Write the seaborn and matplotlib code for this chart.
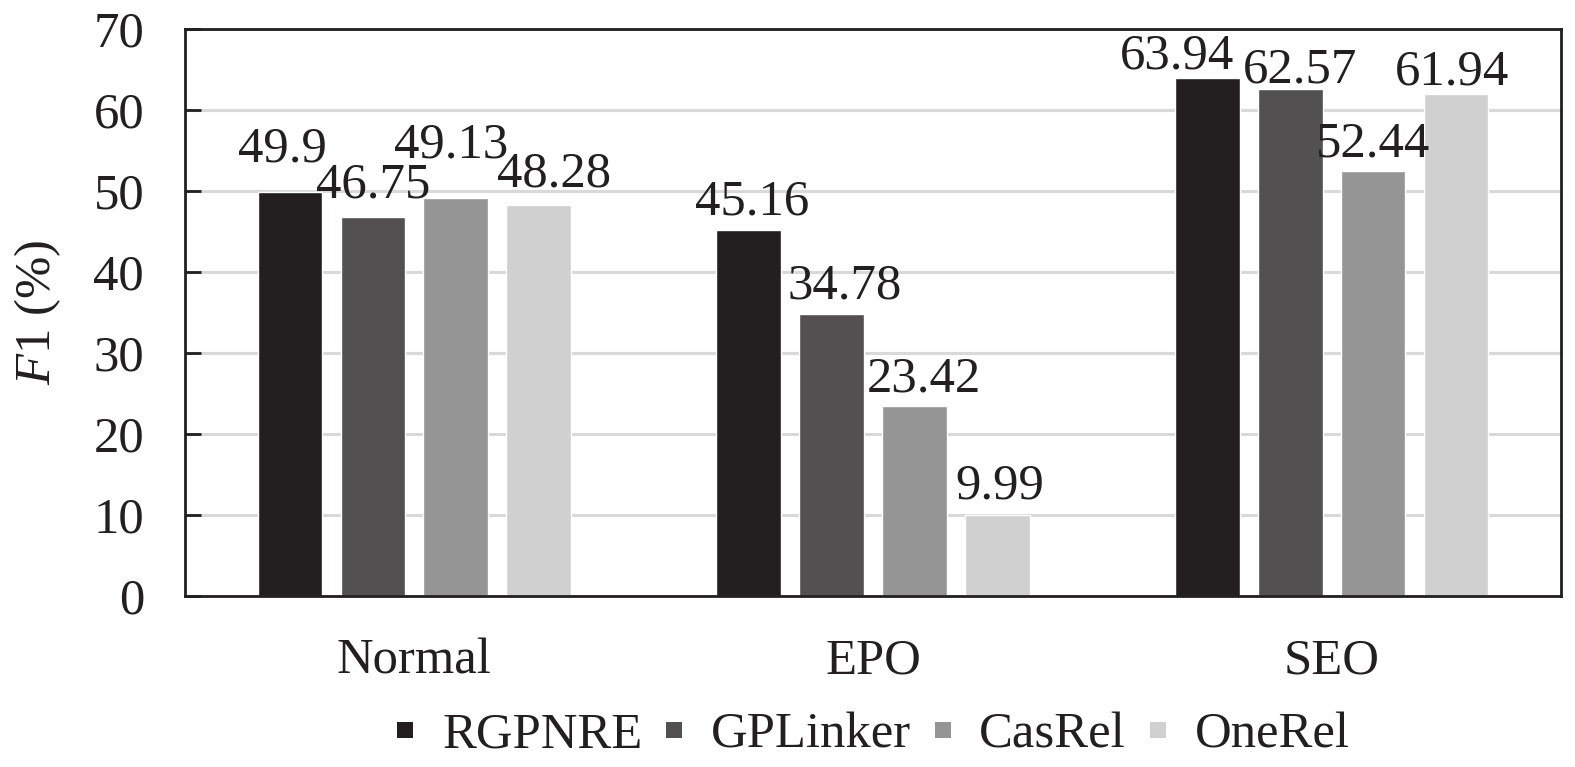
import matplotlib
matplotlib.use('Agg')
import matplotlib.pyplot as plt
from matplotlib.lines import Line2D
import seaborn as sns
import pandas as pd

# ------------------------------------------------------------------
# Data
# ------------------------------------------------------------------
datasets = ['Normal', 'EPO', 'SEO']
models = ['RGPNRE', 'GPLinker', 'CasRel', 'OneRel']
rgpnre = [49.9, 45.16, 63.94]
gplinker = [46.75, 34.78, 62.57]
casrel = [49.13, 23.42, 52.44]
onerel = [48.28, 9.99, 61.94]
y_ticks = [0, 10, 20, 30, 40, 50, 60, 70]

colors = ['#231f20', '#525051', '#969596', '#d0d0d0']

# small nudges (px) for value labels, [dataset][model] -> (dx, extra dy)
label_nudge = [
    [(-8, 14), (0, 4), (-5, 25), (15, 2)],
    [(3, 0), (13, 0), (9, -1), (2, 1)],
    [(-30, -6), (10, -9), (0, -1), (-4, -6)],
]

PX = 0.72  # points per pixel at dpi=100
FS = 36.5

sns.set_theme(style='white')
plt.rcParams['font.family'] = ['Liberation Serif', 'DejaVu Serif']
plt.rcParams['mathtext.fontset'] = 'custom'
plt.rcParams['mathtext.rm'] = 'Liberation Serif'
plt.rcParams['mathtext.it'] = 'Liberation Serif:italic'

rows = []
for m, vals in zip(models, [rgpnre, gplinker, casrel, onerel]):
    for d, v in zip(datasets, vals):
        rows.append({'Dataset': d, 'Model': m, 'F1': v})
df = pd.DataFrame(rows)

fig, ax = plt.subplots(figsize=(15.75, 7.67), dpi=100)
fig.subplots_adjust(left=185 / 1575, right=1561 / 1575,
                    top=1 - 29 / 767, bottom=1 - 596 / 767)

sns.barplot(data=df, x='Dataset', y='F1', hue='Model', order=datasets,
            hue_order=models, palette=colors, saturation=1,
            width=0.723, gap=0.22, ax=ax, legend=False)

# value labels
for mi, cont in enumerate(ax.containers):
    for di, bar in enumerate(cont):
        h = bar.get_height()
        dx, dy = label_nudge[di][mi]
        ax.annotate(f'{h:g}', (bar.get_x() + bar.get_width() / 2, h),
                    xytext=(dx * PX, (16 + dy) * PX), textcoords='offset points',
                    ha='center', va='baseline', fontsize=FS, color='#231f20')

ax.set_xlim(-0.5, 2.5)
ax.set_ylim(0, 70)
ax.set_yticks(y_ticks)
ax.set_xlabel('')
ax.set_ylabel(r'$F$1 (%)', fontsize=FS, labelpad=22, color='#231f20')

ax.set_axisbelow(True)
ax.yaxis.grid(True, color='#d9d9d9', linewidth=2.2)
ax.xaxis.grid(False)

for s in ax.spines.values():
    s.set_visible(True)
    s.set_color('#231f20')
    s.set_linewidth(2)

ax.tick_params(axis='y', direction='in', length=11.5, width=2, color='#231f20',
               pad=29.5, labelsize=FS, labelcolor='#231f20', left=True)
ax.tick_params(axis='x', length=0, pad=30, labelsize=FS, labelcolor='#231f20')

# square legend markers
handles = [Line2D([], [], marker='s', linestyle='', markersize=11,
                  markerfacecolor=c, markeredgewidth=0) for c in colors]
fig.legend(handles, models, loc='center', ncol=4, frameon=False,
           bbox_to_anchor=((185 + 1561) / 2 / 1575, 1 - 735 / 767),
           fontsize=FS, handlelength=0.35, handletextpad=0.55,
           columnspacing=0.45, labelcolor='#231f20')

fig.savefig('out.png', dpi=100)
